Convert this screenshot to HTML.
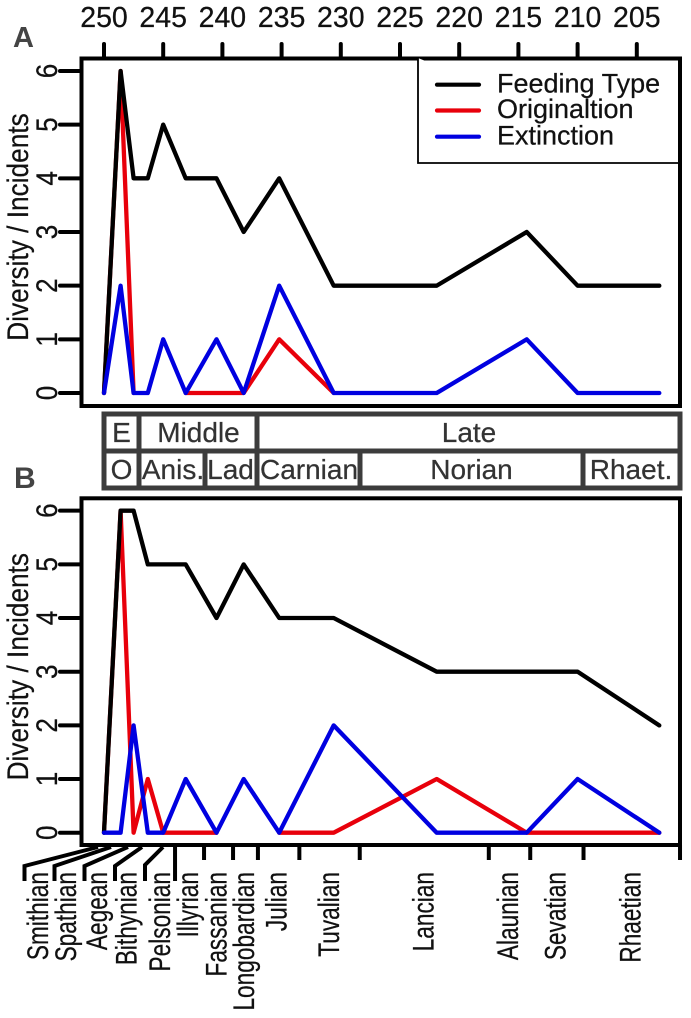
<!DOCTYPE html>
<html lang="en">
<head>
<meta charset="utf-8">
<title>Triassic diversity and incidents</title>
<style>
html,body{margin:0;padding:0;background:#fff;}
svg{display:block;font-family:"Liberation Sans",Arial,sans-serif;}
</style>
</head>
<body>
<svg id="chart" xmlns="http://www.w3.org/2000/svg" width="691" height="1018" viewBox="0 0 691 1018">
  <rect x="0" y="0" width="691" height="1018" fill="#fff"/>

  <text x="13" y="47" font-size="29" font-weight="bold" fill="#444">A</text>
  <text x="14" y="488" font-size="30" font-weight="bold" fill="#444">B</text>

  <g id="panelA"></g>
  <g id="panelB"></g>

  <g fill="none" stroke="#3c3c3c" stroke-width="5">
    <rect x="104" y="414" width="576" height="74"/>
    <line x1="104" y1="451" x2="680" y2="451"/>
    <line x1="139" y1="414" x2="139" y2="488"/>
    <line x1="257" y1="414" x2="257" y2="488"/>
    <line x1="205" y1="451" x2="205" y2="488"/>
    <line x1="360" y1="451" x2="360" y2="488"/>
    <line x1="583" y1="451" x2="583" y2="488"/>
  </g>
  <g font-size="28" fill="#333" stroke="#333" stroke-width="0.25" text-anchor="middle">
    <text x="121.5" y="442">E</text>
    <text x="198.5" y="442">Middle</text>
    <text x="469" y="442">Late</text>
    <text x="121.5" y="479">O</text>
    <text x="173" y="479">Anis.</text>
    <text x="230.5" y="479">Lad</text>
    <text x="309" y="479">Carnian</text>
    <text x="471.5" y="479">Norian</text>
    <text x="631" y="479">Rhaet.</text>
  </g>

  <g fill="none" stroke="#000" stroke-width="4">
    <polyline points="24.5,881 24.5,866 98,847"/>
    <polyline points="54.5,881 54.5,866 111,847"/>
    <polyline points="84.5,881 84.5,866 128,847"/>
    <polyline points="115,881 115,866 142,847"/>
    <polyline points="145,881 145,865 163,847"/>
  </g>
  <g id="bottomTicks"></g>

  <g font-size="30" fill="#111" stroke="#111" stroke-width="0.25" text-anchor="end">
    <text transform="translate(48,872) rotate(-90) scale(0.755,1)">Smithian</text>
    <text transform="translate(76,872) rotate(-90) scale(0.755,1)">Spathian</text>
    <text transform="translate(107,872) rotate(-90) scale(0.755,1)">Aegean</text>
    <text transform="translate(136.7,872) rotate(-90) scale(0.755,1)">Bithynian</text>
    <text transform="translate(170,872) rotate(-90) scale(0.755,1)">Pelsonian</text>
    <text transform="translate(198,872) rotate(-90) scale(0.755,1)">Illyrian</text>
    <text transform="translate(226.7,872) rotate(-90) scale(0.755,1)">Fassanian</text>
    <text transform="translate(254,872) rotate(-90) scale(0.755,1)">Longobardian</text>
    <text transform="translate(286.7,872) rotate(-90) scale(0.755,1)">Julian</text>
    <text transform="translate(339,872) rotate(-90) scale(0.755,1)">Tuvalian</text>
    <text transform="translate(433.3,872) rotate(-90) scale(0.755,1)">Lancian</text>
    <text transform="translate(518,872) rotate(-90) scale(0.755,1)">Alaunian</text>
    <text transform="translate(565.7,872) rotate(-90) scale(0.755,1)">Sevatian</text>
    <text transform="translate(640.7,872) rotate(-90) scale(0.755,1)">Rhaetian</text>
  </g>

  <g>
    <polyline points="418,58 418,163 680,163" fill="#fff" stroke="#000" stroke-width="1.8"/>
    <line x1="437" y1="84.7" x2="479" y2="84.7" stroke="#000" stroke-width="4.2" stroke-linecap="round"/>
    <line x1="437" y1="110.5" x2="479" y2="110.5" stroke="#e8000b" stroke-width="4.2" stroke-linecap="round"/>
    <line x1="437" y1="136.7" x2="479" y2="136.7" stroke="#0000e0" stroke-width="4.2" stroke-linecap="round"/>
    <g font-size="27" fill="#111" stroke="#111" stroke-width="0.25">
      <text x="497" y="92.5">Feeding Type</text>
      <text x="497" y="118">Originaltion</text>
      <text x="497" y="144.3">Extinction</text>
    </g>
  </g>
</svg>
<script>
// Chart data (null = no line drawn at that sample)
const sampleAges = [250, 248.6, 247.5, 246.3, 245, 243.1, 240.5, 238.2, 235.2, 230.6, 221.9, 214.3, 210, 203.1];
const feedingA = [0, 6, 4, 4, 5, 4, 4, 3, 4, 2, 2, 3, 2, 2];
const originationA = [0, 6, 0, null, null, 0, 0, 0, 1, 0, null, null, null, null];
const extinctionA = [0, 2, 0, 0, 1, 0, 1, 0, 2, 0, 0, 1, 0, 0];
const feedingB = [0, 6, 6, 5, 5, 5, 4, 5, 4, 4, 3, 3, 3, 2];
const originationB = [0, 6, 0, 1, 0, 0, 0, null, 0, 0, 1, 0, 0, 0];
const extinctionB = [0, 0, 2, 0, 0, 1, 0, 1, 0, 2, 0, 0, 1, 0];
const topTickLabels = [250, 245, 240, 235, 230, 225, 220, 215, 210, 205];
const yTickLabels = [0, 1, 2, 3, 4, 5, 6];
const boundaryAges = [244, 241.55, 239.1, 237, 233.5, 228.4, 217.5, 214, 209.5, 201.35];

const NS = 'http://www.w3.org/2000/svg';
const xScale = age => 104 + (250 - age) * 11.84;
const yScaleA = v => 393 - v * 53.67;
const yScaleB = v => 832.7 - v * 53.67;

function make(tag, parent, attrs) {
  const el = document.createElementNS(NS, tag);
  for (const k in attrs) el.setAttribute(k, attrs[k]);
  parent.appendChild(el);
  return el;
}

function linePath(values, yScale) {
  let d = '';
  let pen = false;
  values.forEach((v, i) => {
    if (v === null) { pen = false; return; }
    d += (pen ? 'L' : 'M') + xScale(sampleAges[i]).toFixed(1) + ' ' + yScale(v).toFixed(1);
    pen = true;
  });
  return d;
}

function drawPanel(parent, key, top, bottom, yScale, series) {
  const frame = make('rect', parent, {x: 81.5, y: top, width: 598.5, height: bottom - top, fill: 'none', stroke: '#000', 'stroke-width': 4});
  
  

  yTickLabels.forEach(v => {
    const tick = make('line', parent, {x1: 60, x2: 81, y1: yScale(v), y2: yScale(v), stroke: '#000', 'stroke-width': 4, 'stroke-linecap': 'round'});
    
    
    const label = make('text', parent, {transform: 'translate(57,' + yScale(v) + ') rotate(-90) scale(0.87,1)', 'font-size': 30, fill: '#111', stroke: '#111', 'stroke-width': 0.25, 'text-anchor': 'middle'});
    label.textContent = String(v);
    
    
  });

  const title = make('text', parent, {transform: 'translate(28,' + (yScale(3) - 5) + ') rotate(-90) scale(0.875,1)', 'font-size': 30, fill: '#111', stroke: '#111', 'stroke-width': 0.25, 'text-anchor': 'middle'});
  title.textContent = 'Diversity / Incidents';
  
  

  series.forEach(s => {
    const line = make('path', parent, {d: linePath(s.values, yScale), fill: 'none', stroke: s.color, 'stroke-width': 4.3, 'stroke-linejoin': 'round', 'stroke-linecap': 'round'});
    
    
  });
}

const RED = '#e8000b', BLACK = '#000', BLUE = '#0000e0';
const panelA = document.getElementById('panelA');
const panelB = document.getElementById('panelB');

drawPanel(panelA, 'a', 58.5, 406, yScaleA, [
  {name: 'origination', color: RED, values: originationA},
  {name: 'feeding-type', color: BLACK, values: feedingA},
  {name: 'extinction', color: BLUE, values: extinctionA}
]);
drawPanel(panelB, 'b', 498.3, 845, yScaleB, [
  {name: 'origination', color: RED, values: originationB},
  {name: 'feeding-type', color: BLACK, values: feedingB},
  {name: 'extinction', color: BLUE, values: extinctionB}
]);

topTickLabels.forEach(age => {
  const tick = make('line', panelA, {x1: xScale(age), x2: xScale(age), y1: 44, y2: 58, stroke: '#000', 'stroke-width': 4, 'stroke-linecap': 'round'});
  
  
  const label = make('text', panelA, {x: xScale(age), y: 27, 'font-size': 28.5, fill: '#111', stroke: '#111', 'stroke-width': 0.25, 'text-anchor': 'middle'});
  label.textContent = String(age);
  
  
});

const bottomTicks = document.getElementById('bottomTicks');
boundaryAges.forEach((age, i) => {
  const y2 = i === 0 ? 881 : 860;
  const tick = make('line', bottomTicks, {x1: xScale(age), x2: xScale(age), y1: 845, y2: y2, stroke: '#000', 'stroke-width': 4});
  
  
});
</script>
</body>
</html>
